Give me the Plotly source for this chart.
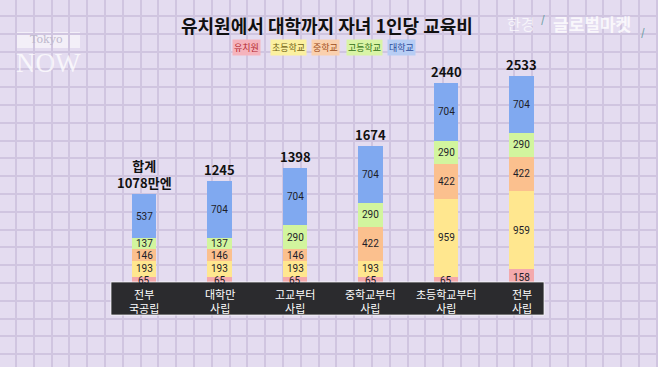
import plotly.graph_objects as go

W, H = 658, 367

categories = ["전부<br>국공립", "대학만<br>사립", "고교부터<br>사립", "중학교부터<br>사립", "초등학교부터<br>사립", "전부<br>사립"]
series_names = ["유치원", "초등학교", "중학교", "고등학교", "대학교"]
kindergarten = [65, 65, 65, 65, 65, 158]
elementary = [193, 193, 193, 193, 959, 959]
middle = [146, 146, 146, 422, 422, 422]
high = [137, 137, 290, 290, 290, 290]
university = [537, 704, 704, 704, 704, 704]
first_total_label = "합계<br>{}만엔"

series_values = [kindergarten, elementary, middle, high, university]
bar_colors = ["#F4A9AC", "#FFE78F", "#FBC08E", "#D2F59E", "#80A9F0"]
chip_bg = ["#F5B3BC", "#FBF0A0", "#FAD0AE", "#D9F4A6", "#B7CDF4"]
chip_fg = ["#B3262E", "#6E5E10", "#9A4A18", "#2E6E12", "#2A4A9A"]
chip_x = [246, 288, 325, 365, 402]

FONT = "Noto Sans CJK KR"
NUM_FONT = "Roboto"
fig = go.Figure()

# invisible trace for the background grid subplot
fig.add_trace(go.Scatter(x=[None], y=[None], xaxis="x", yaxis="y", showlegend=False, hoverinfo="skip"))

for name, vals, col in zip(series_names, series_values, bar_colors):
    fig.add_trace(go.Bar(
        x=categories, y=vals, name=name, xaxis="x2", yaxis="y2",
        marker=dict(color=col, line=dict(width=0)),
        showlegend=False, hoverinfo="skip",
    ))

totals = [sum(v) for v in zip(*series_values)]

base_px = 282
top_px = 37.5
ann = []


def paper_text(x, y, text, font, **kw):
    d = dict(x=x / W, y=(H - y) / H, xref="paper", yref="paper", xanchor="center",
             yanchor="middle", text=text, showarrow=False, font=font)
    d.update(kw)
    return d


# segment value labels at segment midpoints
for i, c in enumerate(categories):
    cum = 0
    for k, vals in enumerate(series_values):
        v = vals[i]
        ann.append(dict(x=c, y=cum + v / 2, xref="x2", yref="y2", xanchor="center",
                        yanchor="middle", text=str(v), showarrow=False, borderpad=0,
                        yshift=-1.5 if k == 0 else 0,
                        font=dict(family=NUM_FONT, size=10, color="#1E1E2A")))
        cum += v

for i, (c, t) in enumerate(zip(categories, totals)):
    txt = first_total_label.format(t) if i == 0 else str(t)
    ann.append(dict(x=c, y=t, xref="x2", yref="y2", xanchor="center", yanchor="bottom",
                    text="<b>" + txt + "</b>", showarrow=False,
                    font=dict(family=FONT, size=13, color="#111111")))
    ann.append(dict(x=c, y=(H - 301) / H, xref="x2", yref="paper", xanchor="center",
                    yanchor="middle", text=c, showarrow=False, borderpad=0,
                    font=dict(family=FONT, size=11, color="#FFFFFF")))

ann.append(paper_text(327, 25, "<b>유치원에서 대학까지 자녀 1인당 교육비</b>",
                      dict(family=FONT, size=18, color="#111111")))

for name, x, bg, fg in zip(series_names, chip_x, chip_bg, chip_fg):
    ann.append(paper_text(x, 47, name, dict(family=FONT, size=9, color=fg),
                          bgcolor=bg, borderpad=1))

# logos
ann.append(paper_text(46, 39.5, "Tokyo", dict(family="DejaVu Serif", size=11, color="rgba(190,185,205,1)"),
                      borderpad=0))
ann.append(paper_text(48, 62.5, "NOW", dict(family="Liberation Serif", size=27, color="rgba(255,255,255,0.75)"),
                      borderpad=0))
ann.append(paper_text(521, 24, "한경", dict(family=FONT, size=15, color="rgba(255,255,255,0.7)")))
ann.append(paper_text(592, 24, "<b>글로벌마켓</b>", dict(family=FONT, size=17, color="rgba(255,255,255,0.8)")))
ann.append(paper_text(543, 19, "<b>/</b>", dict(family=FONT, size=10, color="rgba(90,150,150,0.8)")))
ann.append(paper_text(643, 31, "<b>/</b>", dict(family=FONT, size=10, color="rgba(90,150,150,0.8)")))

shapes = [
    dict(type="rect", xref="paper", yref="paper", x0=111 / W, x1=544 / W,
         y0=(H - 315) / H, y1=(H - 282) / H, fillcolor="#2B2B2E",
         line=dict(color="rgba(255,255,255,0.7)", width=1), layer="above"),
    dict(type="rect", xref="paper", yref="paper", x0=16 / W, x1=80 / W,
         y0=(H - 48) / H, y1=(H - 32) / H, fillcolor="rgba(255,255,255,0.55)",
         line=dict(width=0), layer="below"),
]

fig.update_layout(
    width=W, height=H, autosize=False,
    margin=dict(l=0, r=0, t=0, b=0),
    paper_bgcolor="#E4DCF0", plot_bgcolor="rgba(0,0,0,0)",
    barmode="stack", bargap=0.67,
    xaxis=dict(domain=[0, 1], range=[0, W], tick0=16, dtick=17.8, showgrid=True,
               gridcolor="#D0C5E0", gridwidth=1.5, showticklabels=False, zeroline=False,
               showline=False, ticks="", fixedrange=True),
    yaxis=dict(domain=[0, 1], range=[H, 0], tick0=16, dtick=17.8, showgrid=True,
               gridcolor="#D0C5E0", gridwidth=1.5, showticklabels=False, zeroline=False,
               showline=False, ticks="", fixedrange=True),
    xaxis2=dict(domain=[106.25 / W, 559.25 / W], anchor="y2", showgrid=False,
                showticklabels=False, showline=False, zeroline=False, ticks="",
                type="category"),
    yaxis2=dict(domain=[(H - base_px) / H, (H - top_px) / H], anchor="x2", range=[0, 3000],
                showgrid=False, showticklabels=False, showline=False, zeroline=False, ticks=""),
    annotations=ann,
    shapes=shapes,
    showlegend=False,
)

fig.write_html("out.html", config={"displayModeBar": False},
               post_script="document.body.style.margin='0';document.body.style.overflow='hidden';")
